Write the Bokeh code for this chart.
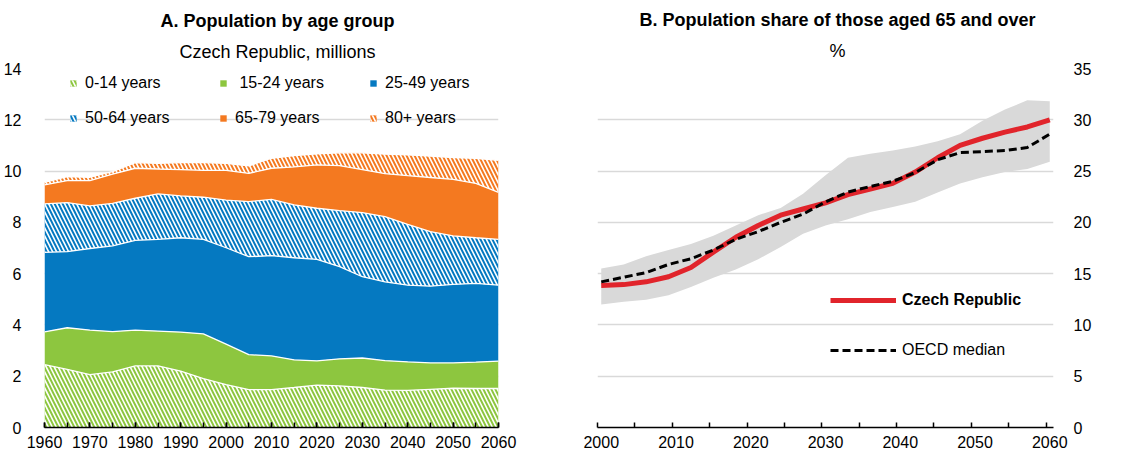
import numpy as np
from bokeh.plotting import figure
from bokeh.models import FixedTicker, Legend, LegendItem, Title, Range1d
from bokeh.layouts import row
from bokeh.embed import file_html
from bokeh.resources import INLINE

FONT = "Liberation Sans"

# ---------------- Panel A data (millions) ----------------
years_a = [1960, 1965, 1970, 1975, 1980, 1985, 1990, 1995, 2000, 2005, 2010,
           2015, 2020, 2025, 2030, 2035, 2040, 2045, 2050, 2055, 2060]
age_0_14 = [2.45, 2.27, 2.06, 2.17, 2.40, 2.40, 2.20, 1.91, 1.67, 1.48, 1.48,
            1.56, 1.65, 1.62, 1.56, 1.46, 1.45, 1.49, 1.53, 1.52, 1.52]
age_15_24 = [1.28, 1.62, 1.74, 1.57, 1.40, 1.36, 1.52, 1.74, 1.58, 1.36, 1.31,
             1.08, 0.95, 1.06, 1.15, 1.15, 1.11, 1.03, 0.99, 1.03, 1.07]
age_25_49 = [3.10, 2.97, 3.18, 3.34, 3.50, 3.58, 3.68, 3.69, 3.76, 3.82, 3.91,
             3.98, 3.96, 3.59, 3.17, 3.07, 2.99, 2.99, 3.06, 3.07, 2.96]
age_50_64 = [1.89, 1.91, 1.66, 1.66, 1.64, 1.77, 1.63, 1.64, 1.86, 2.15, 2.20,
             2.06, 1.99, 2.19, 2.50, 2.54, 2.37, 2.13, 1.89, 1.78, 1.79]
age_65_79 = [0.74, 0.86, 0.99, 1.14, 1.17, 0.97, 1.03, 1.05, 1.16, 1.10, 1.21,
             1.48, 1.69, 1.75, 1.68, 1.68, 1.90, 2.11, 2.21, 2.12, 1.83]
age_80p = [0.10, 0.15, 0.13, 0.10, 0.22, 0.22, 0.27, 0.30, 0.27, 0.29, 0.39,
           0.44, 0.43, 0.50, 0.65, 0.76, 0.81, 0.83, 0.85, 0.98, 1.25]
group_labels = ["0-14 years", " 15-24 years", "25-49 years",
                "50-64 years", "65-79 years", "80+ years"]
x_ticks_a = [1960, 1970, 1980, 1990, 2000, 2010, 2020, 2030, 2040, 2050, 2060]
y_ticks_a = [0, 2, 4, 6, 8, 10, 12, 14]

# ---------------- Panel B data (%) ----------------
years_b = [2000, 2003, 2006, 2009, 2012, 2015, 2018, 2021, 2024, 2027, 2030,
           2033, 2036, 2039, 2042, 2045, 2048, 2051, 2054, 2057, 2060]
czech = [13.85, 13.93, 14.2, 14.7, 15.6, 17.1, 18.55, 19.7, 20.7, 21.3, 21.9,
         22.7, 23.25, 23.8, 24.9, 26.3, 27.5, 28.2, 28.8, 29.3, 30.0]
oecd_median = [14.2, 14.65, 15.1, 15.9, 16.45, 17.3, 18.35, 19.1, 20.0, 20.8, 22.0,
               22.95, 23.5, 24.0, 24.85, 26.1, 26.8, 26.9, 27.0, 27.3, 28.6]
oecd_high = [15.5, 15.9, 16.7, 17.3, 17.9, 18.7, 19.7, 20.7, 21.4, 22.8, 24.6,
             26.3, 26.7, 27.0, 27.4, 27.9, 28.6, 29.9, 31.0, 31.9, 31.8]
oecd_low = [12.0, 12.25, 12.45, 12.9, 13.7, 14.6, 15.4, 16.4, 17.6, 18.9, 19.7,
            20.3, 21.0, 21.5, 22.0, 22.9, 23.8, 24.4, 24.9, 25.2, 25.9]
x_ticks_b = [2000, 2010, 2020, 2030, 2040, 2050, 2060]
y_ticks_b = [0, 5, 10, 15, 20, 25, 30, 35]

GREEN = "#8DC63F"
BLUE = "#0579C1"
ORANGE = "#F47920"
GRID = "#D9D9D9"
FRAME_H = 359


def style_axes(p, y_standoff):
    p.outline_line_color = None
    p.xgrid.grid_line_color = None
    p.ygrid.grid_line_color = GRID
    p.ygrid.grid_line_width = 1.5
    ax = p.xaxis[0]
    ax.axis_line_color = "black"
    ax.axis_line_width = 1.5
    ax.major_tick_line_color = "black"
    ax.minor_tick_line_color = "black"
    ax.major_tick_line_width = 1.5
    ax.minor_tick_line_width = 1.5
    ax.major_tick_out = 0
    ax.minor_tick_out = 0
    ax.major_label_text_font = FONT
    ax.major_label_text_font_size = "16px"
    ax.major_label_text_color = "black"
    ax.major_label_standoff = 8
    ay = p.yaxis[0]
    ay.axis_line_color = None
    ay.major_tick_line_color = None
    ay.minor_tick_line_color = None
    ay.major_label_text_font = FONT
    ay.major_label_text_font_size = "16px"
    ay.major_label_text_color = "black"
    ay.major_label_standoff = y_standoff


def add_titles(p, title, subtitle, title_off, sub_off, gap, sub_standoff):
    # added from the frame outwards: subtitle, title, small spacer on top
    p.add_layout(Title(text=subtitle, align="left", offset=sub_off, text_font=FONT,
                       text_font_size="18px", text_font_style="normal",
                       text_color="black", standoff=sub_standoff), "above")
    p.add_layout(Title(text=title, align="left", offset=title_off, text_font=FONT,
                       text_font_size="18px", text_font_style="bold",
                       text_color="black", standoff=gap), "above")
    p.add_layout(Title(text=" ", text_font_size="4px", standoff=0), "above")


# ---------------- Panel A ----------------
p1 = figure(frame_width=454, frame_height=FRAME_H,
            x_range=Range1d(1960, 2060), y_range=Range1d(0, 14),
            output_backend="svg", toolbar_location=None,
            min_border_left=36, min_border_right=67, min_border_top=0, min_border_bottom=0)
style_axes(p1, 17)
p1.xaxis.ticker = FixedTicker(ticks=x_ticks_a, minor_ticks=years_a)
p1.xaxis.major_tick_in = 5
p1.xaxis.minor_tick_in = 5
p1.yaxis.ticker = FixedTicker(ticks=y_ticks_a)
p1.ygrid.ticker = FixedTicker(ticks=y_ticks_a)
add_titles(p1, "A. Population by age group", "Czech Republic, millions", 116, 135, 3, 14)

series = [age_0_14, age_15_24, age_25_49, age_50_64, age_65_79, age_80p]
colors = [GREEN, GREEN, BLUE, BLUE, ORANGE, ORANGE]
hatched = [True, False, False, True, False, True]
bottom = np.zeros(len(years_a))
items = []
tops = []
for vals, col, hat, lab in zip(series, colors, hatched, group_labels):
    top = bottom + np.array(vals)
    kw = dict(fill_color=col)
    if hat:
        kw.update(hatch_pattern="\\", hatch_color="white", hatch_scale=8, hatch_weight=1.6)
    r = p1.varea(x=years_a, y1=bottom, y2=top, **kw)
    items.append(LegendItem(label=lab, renderers=[r]))
    tops.append(top)
    bottom = top
for top in tops:
    p1.line(x=years_a, y=top, line_color="white", line_width=1.3)

leg1 = Legend(items=items, location=(25, FRAME_H - 60), orientation="horizontal", ncols=3,
              glyph_width=8, glyph_height=8, label_standoff=8, label_width=119,
              label_height=20, spacing=15, padding=0, margin=0,
              border_line_color=None, background_fill_alpha=0,
              label_text_font=FONT, label_text_font_size="16px", label_text_color="black")
p1.add_layout(leg1)

# ---------------- Panel B ----------------
p2 = figure(frame_width=456, frame_height=FRAME_H,
            x_range=Range1d(1999.5, 2060.5), y_range=Range1d(0, 35),
            y_axis_location="right", output_backend="svg", toolbar_location=None,
            min_border_left=32, min_border_right=50, min_border_top=0, min_border_bottom=0)
style_axes(p2, 14)
p2.xaxis.ticker = FixedTicker(ticks=x_ticks_b,
                              minor_ticks=[t - 0.5 for t in range(2000, 2061, 5)])
p2.xaxis.major_tick_in = 0
p2.xaxis.minor_tick_in = 5
p2.yaxis.ticker = FixedTicker(ticks=y_ticks_b)
p2.ygrid.ticker = FixedTicker(ticks=y_ticks_b)
add_titles(p2, "B. Population share of those aged 65 and over", "%", 42, 232, 1, 16)

p2.varea(x=years_b, y1=oecd_low, y2=oecd_high, fill_color=GRID)
r_cz = p2.line(x=years_b, y=czech, line_color="#E1242B", line_width=5)
r_oe = p2.line(x=years_b, y=oecd_median, line_color="black", line_width=3, line_dash="8 4")

common = dict(glyph_width=66, glyph_height=20, label_height=20, label_standoff=6,
              padding=0, margin=0, border_line_color=None, background_fill_alpha=0,
              label_text_font=FONT, label_text_font_size="16px", label_text_color="black")
leg_cz = Legend(items=[LegendItem(label="Czech Republic", renderers=[r_cz])],
                location=(233, 117), label_text_font_style="bold", **common)
leg_oe = Legend(items=[LegendItem(label="OECD median", renderers=[r_oe])],
                location=(233, 67), **common)
p2.add_layout(leg_cz)
p2.add_layout(leg_oe)

layout = row(p1, p2)
open("out.html", "w").write(file_html(layout, INLINE))
